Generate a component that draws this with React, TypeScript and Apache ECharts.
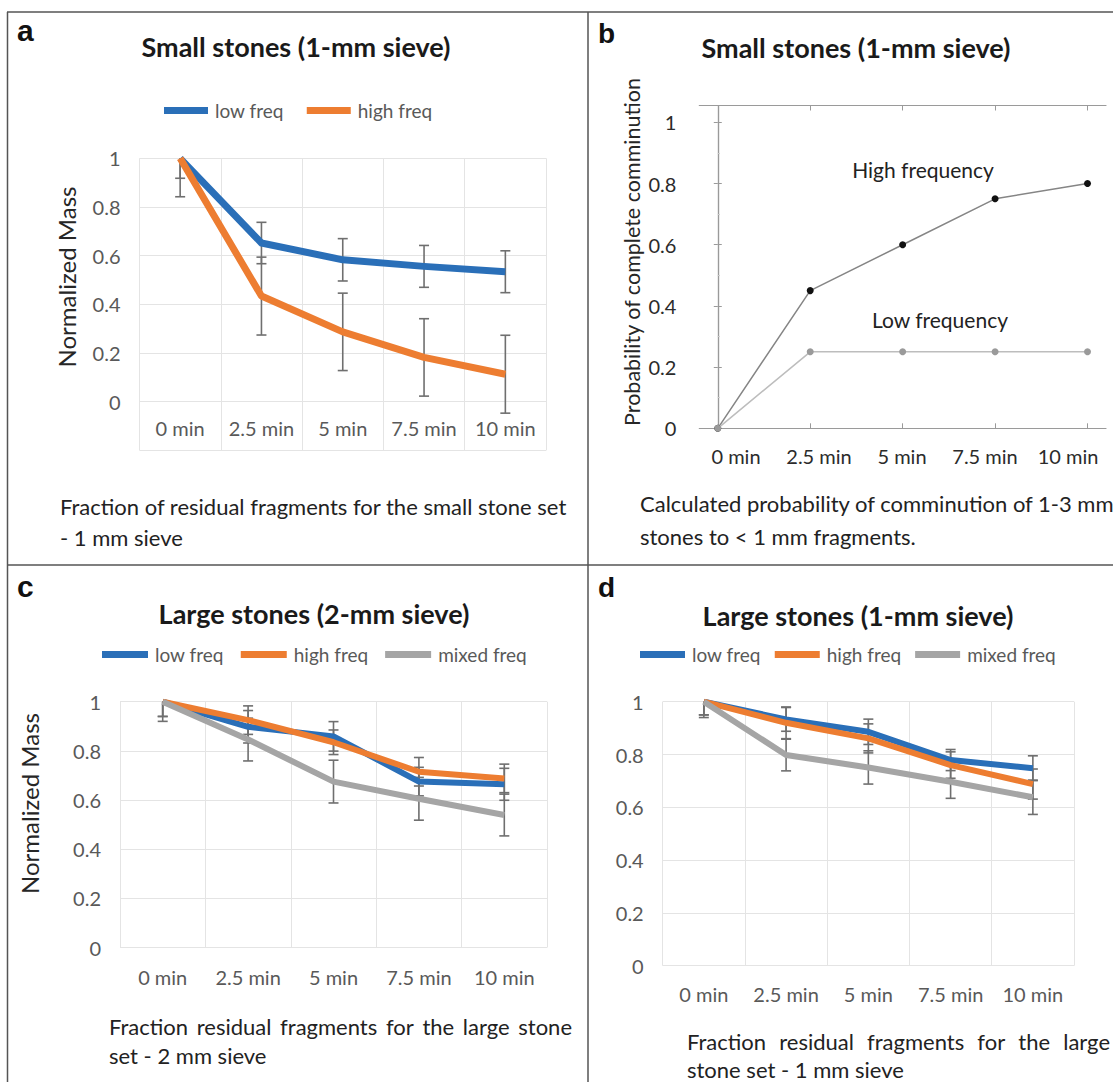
import React, { useEffect, useRef } from 'react';
import * as echarts from 'echarts';

const W = 1113;
const H = 1082;
const FONT = 'Lato, "Open Sans", sans-serif';
const LETTER_FONT = '"Liberation Sans", Arial, sans-serif';

const BLUE = '#2a6fb8';
const ORANGE = '#ed7d31';
const GRAY = '#a5a5a5';
const ERR = '#6f6f6f';
const GRID = '#e4e4e4';
const LABEL = '#595959';
const DARK = '#222222';

// ---------- data ----------
const categories = ['0 min', '2.5 min', '5 min', '7.5 min', '10 min'];

// Panel a: small stones, 1-mm sieve
const aLow = [1.0, 0.652, 0.583, 0.556, 0.534];
const aLowErr = [0.082, 0.085, 0.087, 0.086, 0.086];
const aHigh = [1.0, 0.434, 0.287, 0.182, 0.113];
const aHighErr = [0.158, 0.16, 0.159, 0.159, 0.16];

// Panel b: probability of complete comminution
const bMinutes = [0, 2.5, 5, 7.5, 10];
const bHigh = [0, 0.45, 0.6, 0.75, 0.8];
const bLow = [0, 0.25, 0.25, 0.25, 0.25];

// Panel c: large stones, 2-mm sieve
const cLow = [1.0, 0.898, 0.859, 0.675, 0.664];
const cLowErr = [0.06, 0.066, 0.06, 0.058, 0.065];
const cHigh = [1.0, 0.925, 0.835, 0.715, 0.688];
const cHighErr = [0.06, 0.058, 0.05, 0.058, 0.058];
const cMixed = [1.0, 0.846, 0.675, 0.605, 0.539];
const cMixedErr = [0.08, 0.087, 0.087, 0.087, 0.085];

// Panel d: large stones, 1-mm sieve
const dLow = [1.0, 0.933, 0.886, 0.779, 0.748];
const dLowErr = [0.05, 0.045, 0.048, 0.04, 0.047];
const dHigh = [1.0, 0.92, 0.861, 0.76, 0.688];
const dHighErr = [0.05, 0.06, 0.055, 0.05, 0.057];
const dMixed = [1.0, 0.798, 0.751, 0.697, 0.638];
const dMixedErr = [0.06, 0.06, 0.063, 0.063, 0.065];

const seriesNames = ['low freq', 'high freq', 'mixed freq'];

// ---------- helpers ----------
function errSeries(name: string, axisIdx: number, vals: number[], errs: number[], clipMax: number) {
  return {
    type: 'custom',
    name: name + ' error',
    xAxisIndex: axisIdx,
    yAxisIndex: axisIdx,
    z: 1,
    silent: true,
    clip: false,
    data: vals.map((v, i) => [i, v - errs[i], v + errs[i]]),
    renderItem: (_p: any, api: any) => {
      const i = api.value(0);
      const lo = api.value(1);
      const hi = api.value(2);
      const top = Math.min(hi, clipMax);
      const p1 = api.coord([i, lo]);
      const p2 = api.coord([i, top]);
      const st = { stroke: ERR, lineWidth: 1.6 };
      const children: any[] = [
        { type: 'line', shape: { x1: p1[0], y1: p1[1], x2: p2[0], y2: p2[1] }, style: st },
        { type: 'line', shape: { x1: p1[0] - 5, y1: p1[1], x2: p1[0] + 5, y2: p1[1] }, style: st },
      ];
      if (hi <= clipMax + 1e-9) {
        children.push({ type: 'line', shape: { x1: p2[0] - 5, y1: p2[1], x2: p2[0] + 5, y2: p2[1] }, style: st });
      }
      return { type: 'group', children };
    },
  };
}

function lineSeries(name: string, axisIdx: number, vals: number[], color: string, width: number) {
  return {
    type: 'line',
    name,
    xAxisIndex: axisIdx,
    yAxisIndex: axisIdx,
    data: vals,
    symbol: 'none',
    z: 3,
    itemStyle: { color },
    lineStyle: { color, width, join: 'round', cap: 'butt' },
    silent: true,
  };
}

function justified(words: string[], x0: number, x1: number, y: number, size: number, color: string) {
  const ctx = document.createElement('canvas').getContext('2d') as CanvasRenderingContext2D;
  ctx.font = `${size}px ${FONT}`;
  const widths = words.map((w) => ctx.measureText(w).width);
  const total = widths.reduce((s, v) => s + v, 0);
  const gap = (x1 - x0 - total) / (words.length - 1);
  let x = x0;
  return words.map((w, i) => {
    const el = {
      type: 'text',
      x,
      y,
      style: { text: w, fontFamily: FONT, fontSize: size, fill: color, verticalAlign: 'middle' },
    };
    x += widths[i] + gap;
    return el;
  });
}

function txt(text: string, x: number, y: number, size: number, color = DARK, weight = 'normal', family = FONT) {
  return {
    type: 'text',
    x,
    y,
    style: { text, fontFamily: family, fontSize: size, fontWeight: weight, fill: color, verticalAlign: 'middle' },
  };
}

function vtxt(text: string, x: number, y: number, size: number) {
  return {
    type: 'text',
    x,
    y,
    rotation: Math.PI / 2,
    style: { text, fontFamily: FONT, fontSize: size, fill: '#262626', align: 'center', verticalAlign: 'middle' },
  };
}

const fmtY = (v: number) => {
  if (v < -1e-9) return '';
  const k = v / 0.2;
  if (Math.abs(k - Math.round(k)) > 1e-6) return '';
  return String(Math.round(v * 10) / 10);
};

function catX(gridIndex: number, margin: number) {
  return {
    type: 'category',
    gridIndex,
    data: categories,
    boundaryGap: true,
    axisLine: { show: false },
    axisTick: { show: false },
    axisLabel: { color: LABEL, fontSize: 20, fontFamily: FONT, margin, interval: 0 },
    splitLine: { show: true, interval: 0, lineStyle: { color: GRID, width: 1 } },
  };
}

function valY(gridIndex: number, min: number) {
  return {
    type: 'value',
    gridIndex,
    min,
    max: 1,
    interval: 0.2,
    axisLine: { show: false },
    axisTick: { show: false },
    axisLabel: { color: LABEL, fontSize: 20, fontFamily: FONT, margin: 19, formatter: fmtY },
    splitLine: { show: true, lineStyle: { color: GRID, width: 1 } },
  };
}

const titleStyle = { fontFamily: FONT, fontSize: 27, fontWeight: 'bold', color: '#1a1a1a' };
const legendText = { color: LABEL, fontSize: 19, fontFamily: FONT, padding: [0, 0, 0, 2] };

export default function App() {
  const ref = useRef<HTMLDivElement>(null);
  useEffect(() => {
    if (!ref.current) return;
    const chart = echarts.init(ref.current, undefined, { renderer: 'svg', width: W, height: H });
    const boxColor = '#9a9a9a';

    const option: any = {
      animation: false,
      backgroundColor: '#ffffff',
      textStyle: { fontFamily: FONT },
      title: [
        { text: 'Small stones (1-mm sieve)', left: 296, top: 33, padding: 0, textAlign: 'center', textStyle: titleStyle },
        { text: 'Small stones (1-mm sieve)', left: 856, top: 34, padding: 0, textAlign: 'center', textStyle: titleStyle },
        { text: 'Large stones (2-mm sieve)', left: 314, top: 600, padding: 0, textAlign: 'center', textStyle: titleStyle },
        { text: 'Large stones (1-mm sieve)', left: 858, top: 602, padding: 0, textAlign: 'center', textStyle: titleStyle },
      ],
      legend: [
        {
          data: seriesNames.slice(0, 2), left: 164, top: 101, padding: 0, icon: 'rect', itemWidth: 44, itemHeight: 7, itemGap: 23,
          textStyle: legendText, selectedMode: false,
        },
        {
          data: seriesNames, left: 102, top: 645, padding: 0, icon: 'rect', itemWidth: 46, itemHeight: 7, itemGap: 17,
          textStyle: legendText, selectedMode: false,
        },
        {
          data: seriesNames, left: 640, top: 645, padding: 0, icon: 'rect', itemWidth: 45, itemHeight: 7, itemGap: 14,
          textStyle: legendText, selectedMode: false,
        },
      ],
      grid: [
        { left: 139.5, right: W - 546, top: 158.3, bottom: H - 450.4, show: false },
        { left: 699.3, right: W - 1106, top: 105.5, bottom: H - 428.3, show: false },
        { left: 694.5, right: W - 1109.5, top: 105.5, bottom: H - 428.3, show: false },
        { left: 120, right: W - 547, top: 701.7, bottom: H - 947.5, show: false },
        { left: 662.7, right: W - 1074, top: 701.7, bottom: H - 965.7, show: false },
      ],
      xAxis: [
        catX(0, -32),
        {
          type: 'value', gridIndex: 1, min: -0.5, max: 10.5,
          axisLine: { show: true, onZero: false, lineStyle: { color: boxColor, width: 1.2 } },
          axisTick: { show: true, inside: true, length: 5, customValues: bMinutes, lineStyle: { color: boxColor } },
          axisLabel: { show: false }, splitLine: { show: false },
        },
        {
          type: 'value', gridIndex: 1, position: 'top', min: -0.5, max: 10.5,
          axisLine: { show: true, onZero: false, lineStyle: { color: boxColor, width: 1.2 } },
          axisTick: { show: true, inside: true, length: 5, customValues: bMinutes, lineStyle: { color: boxColor } },
          axisLabel: { show: false }, splitLine: { show: false },
        },
        {
          type: 'category', gridIndex: 2, data: categories, boundaryGap: true,
          axisLine: { show: false }, axisTick: { show: false }, splitLine: { show: false },
          axisLabel: { color: '#2b2b2b', fontSize: 20, fontFamily: FONT, margin: 18, interval: 0 },
        },
        catX(3, 19),
        catX(4, 18),
      ],
      yAxis: [
        valY(0, -0.2),
        {
          type: 'value', gridIndex: 1, min: 0, max: 1.055, interval: 0.2,
          axisLine: { show: true, lineStyle: { color: boxColor, width: 1.2 } },
          axisTick: { show: true, inside: true, length: 4, lineStyle: { color: boxColor } },
          minorTick: { show: true, splitNumber: 2, length: 2, lineStyle: { color: '#c8c8c8' } },
          axisLabel: { color: '#2b2b2b', fontSize: 20, fontFamily: FONT, margin: 23, formatter: fmtY },
          splitLine: { show: false },
        },
        {
          type: 'value', gridIndex: 1, position: 'right', min: 0, max: 1.055, interval: 0.2,
          axisLine: { show: true, lineStyle: { color: boxColor, width: 1.2 } },
          axisTick: { show: true, inside: true, length: 4, lineStyle: { color: boxColor } },
          axisLabel: { show: false }, splitLine: { show: false },
        },
        { type: 'value', gridIndex: 2, show: false, min: 0, max: 1 },
        valY(3, 0),
        valY(4, 0),
      ],
      series: [
        // panel a
        errSeries('low freq', 0, aLow, aLowErr, 1),
        errSeries('high freq', 0, aHigh, aHighErr, 1),
        lineSeries('low freq', 0, aLow, BLUE, 7),
        lineSeries('high freq', 0, aHigh, ORANGE, 7),
        // panel b
        {
          type: 'line', name: 'High frequency', xAxisIndex: 1, yAxisIndex: 1,
          data: bMinutes.map((m, i) => [m, bHigh[i]]),
          symbol: 'circle', symbolSize: 7,
          itemStyle: { color: '#111111' },
          lineStyle: { color: '#858585', width: 1.5 },
          z: 3, silent: true,
          markPoint: {
            symbol: 'circle', symbolSize: 0, silent: true,
            data: [{ coord: [5.55, 0.846], value: 'High frequency' }],
            label: { show: true, position: 'inside', formatter: 'High frequency', fontSize: 21, fontFamily: FONT, color: '#222' },
          },
        },
        {
          type: 'line', name: 'Low frequency', xAxisIndex: 1, yAxisIndex: 1,
          data: bMinutes.map((m, i) => [m, bLow[i]]),
          symbol: 'circle', symbolSize: 7,
          itemStyle: { color: '#9a9a9a' },
          lineStyle: { color: '#bdbdbd', width: 1.5 },
          z: 4, silent: true,
          markPoint: {
            symbol: 'circle', symbolSize: 0, silent: true,
            data: [{ coord: [6.01, 0.356], value: 'Low frequency' }],
            label: { show: true, position: 'inside', formatter: 'Low frequency', fontSize: 21, fontFamily: FONT, color: '#222' },
          },
        },
        // panel c
        errSeries('low freq', 4, cLow, cLowErr, 1),
        errSeries('high freq', 4, cHigh, cHighErr, 1),
        errSeries('mixed freq', 4, cMixed, cMixedErr, 1),
        lineSeries('low freq', 4, cLow, BLUE, 6),
        lineSeries('high freq', 4, cHigh, ORANGE, 6),
        lineSeries('mixed freq', 4, cMixed, GRAY, 6),
        // panel d
        errSeries('low freq', 5, dLow, dLowErr, 1),
        errSeries('high freq', 5, dHigh, dHighErr, 1),
        errSeries('mixed freq', 5, dMixed, dMixedErr, 1),
        lineSeries('low freq', 5, dLow, BLUE, 6),
        lineSeries('high freq', 5, dHigh, ORANGE, 6),
        lineSeries('mixed freq', 5, dMixed, GRAY, 6),
      ],
      graphic: [
        // panel frame
        { type: 'line', shape: { x1: 7, y1: 12, x2: W, y2: 12 }, style: { stroke: '#555', lineWidth: 1.5 } },
        { type: 'line', shape: { x1: 7.5, y1: 12, x2: 7.5, y2: H }, style: { stroke: '#555', lineWidth: 1.5 } },
        { type: 'line', shape: { x1: 588, y1: 12, x2: 588, y2: H }, style: { stroke: '#555', lineWidth: 1.5 } },
        { type: 'line', shape: { x1: 7, y1: 565, x2: W, y2: 565 }, style: { stroke: '#555', lineWidth: 1.5 } },
        // panel letters
        txt('a', 17, 30, 30, '#111', 'bold', LETTER_FONT),
        txt('b', 598, 33, 28, '#111', 'bold', LETTER_FONT),
        txt('c', 17, 586, 30, '#111', 'bold', LETTER_FONT),
        txt('d', 598, 587, 28, '#111', 'bold', LETTER_FONT),
        // axis titles
        vtxt('Normalized Mass', 66, 277, 24),
        vtxt('Probability of complete comminution', 632, 252, 21.5),
        vtxt('Normalized Mass', 29, 803.5, 24),
        // captions
        txt('Fraction of residual fragments for the small stone set', 60, 506, 22),
        txt('- 1 mm sieve', 60, 537, 22),
        txt('Calculated probability of comminution of 1-3 mm', 640, 503, 22),
        txt('stones to < 1 mm fragments.', 640, 536, 22),
        ...justified(['Fraction', 'residual', 'fragments', 'for', 'the', 'large', 'stone'], 109, 572, 1026, 22, DARK),
        txt('set - 2 mm sieve', 109, 1055, 22),
        ...justified(['Fraction', 'residual', 'fragments', 'for', 'the', 'large'], 687, 1110, 1041, 22, DARK),
        txt('stone set - 1 mm sieve', 687, 1069, 22),
      ],
    };
    chart.setOption(option);
    return () => chart.dispose();
  }, []);
  return <div ref={ref} style={{ position: 'absolute', left: 0, top: 0, width: W, height: H }} />;
}
